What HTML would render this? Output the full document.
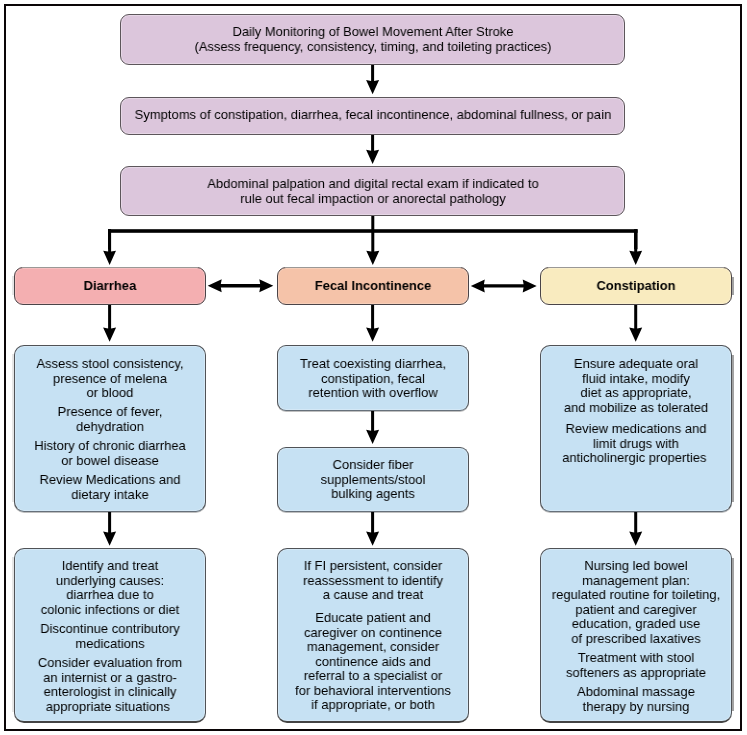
<!DOCTYPE html>
<html><head><meta charset="utf-8"><style>
html,body{margin:0;padding:0;background:#fff;}
body{width:747px;height:735px;position:relative;overflow:hidden;font-family:"Liberation Sans",sans-serif;color:#000;}
.frame{position:absolute;left:4px;top:4px;width:738px;height:727px;box-sizing:border-box;border:2px solid #0a0506;}
.b{position:absolute;box-sizing:border-box;border:1px solid #4a4448;}
.b.p{border-color:#5d565b;box-shadow:inset 0 0 0 1px rgba(255,255,255,0.3);}
.b.c{border-color:#4a4448;box-shadow:inset 0 0 0 1px rgba(255,255,255,0.2);}
.b.u{border-color:#505256;border-bottom-color:#66707a;box-shadow:0 1px 0 rgba(0,0,0,0.25),inset 0 0 0 1px rgba(255,255,255,0.25);}
.b.u2{border-bottom:2px solid #444;box-shadow:inset 0 0 0 1px rgba(255,255,255,0.25);}
.t{position:absolute;width:700px;text-align:center;font-size:13.5px;line-height:14.5px;white-space:nowrap;transform:scaleX(0.962);transform-origin:50% 0;will-change:transform;}
.t div{height:14.5px;}
.t.bd{font-weight:bold;transform:scaleX(0.958);}
svg{position:absolute;left:0;top:0;}
</style></head><body>
<div class="frame"></div>

<div class="b p" style="left:120px;top:14px;width:505px;height:51px;background:#dcc6dc;border-radius:9px"></div>
<div class="b p" style="left:120px;top:97px;width:505px;height:38px;background:#dcc6dc;border-radius:9px"></div>
<div class="b p" style="left:120px;top:166px;width:505px;height:50px;background:#dcc6dc;border-radius:9px"></div>
<div class="b c" style="left:14px;top:267px;width:192px;height:38px;background:#f4afb1;border-radius:9px"></div>
<div class="b c" style="left:277px;top:267px;width:192px;height:38px;background:#f5c3a9;border-radius:9px"></div>
<div class="b c" style="left:540px;top:267px;width:192px;height:38px;background:#f9ebbf;border-radius:9px"></div>
<div class="b u" style="left:14px;top:345px;width:192px;height:167px;background:#c6e1f3;border-radius:10px"></div>
<div class="b u u2" style="left:14px;top:548px;width:192px;height:175px;background:#c6e1f3;border-radius:10px"></div>
<div class="b u" style="left:277px;top:345px;width:192px;height:66px;background:#c6e1f3;border-radius:9px"></div>
<div class="b u" style="left:277px;top:447px;width:192px;height:65px;background:#c6e1f3;border-radius:9px"></div>
<div class="b u u2" style="left:277px;top:548px;width:192px;height:175px;background:#c6e1f3;border-radius:10px"></div>
<div class="b u" style="left:540px;top:345px;width:192px;height:167px;background:#c6e1f3;border-radius:10px"></div>
<div class="b u u2" style="left:540px;top:548px;width:192px;height:175px;background:#c6e1f3;border-radius:10px"></div>
<div style="position:absolute;left:732px;top:277px;width:2px;height:18px;background:#a3a3a3"></div>
<div style="position:absolute;left:732px;top:355px;width:2px;height:147px;background:#a3a3a3"></div>
<div style="position:absolute;left:732px;top:558px;width:2px;height:153px;background:#a3a3a3"></div>
<div style="position:absolute;left:12px;top:276px;width:2px;height:19px;background:#e6e6e6"></div>
<div style="position:absolute;left:22px;top:267px;width:176px;height:1px;background:#9a9896"></div>
<div style="position:absolute;left:285px;top:267px;width:176px;height:1px;background:#9a9896"></div>
<div style="position:absolute;left:548px;top:267px;width:176px;height:1px;background:#9a9896"></div>
<div style="position:absolute;left:12px;top:354px;width:2px;height:148px;background:#e6e6e6"></div>
<div style="position:absolute;left:12px;top:557px;width:2px;height:155px;background:#e6e6e6"></div>
<svg width="747" height="735" viewBox="0 0 747 735"><rect x="108" y="229.2" width="529.6" height="3.6" fill="#000"/><rect x="108" y="229.2" width="3" height="20" fill="#000"/><rect x="634.1" y="229.2" width="3.4" height="20" fill="#000"/><path d="M371.1 65 L374.1 65 L374.1 80.92307692307692 L379.1 80.0 L372.6 94.3 L366.1 80.0 L371.1 80.92307692307692 Z" fill="#000"/><path d="M371.1 135 L374.1 135 L374.1 150.72307692307692 L379.1 149.79999999999998 L372.6 164.1 L366.1 149.79999999999998 L371.1 150.72307692307692 Z" fill="#000"/><path d="M371.3 216 L374.3 216 L374.3 251.62307692307692 L379.3 250.7 L372.8 265 L366.3 250.7 L371.3 251.62307692307692 Z" fill="#000"/><path d="M108.1 229.5 L111.1 229.5 L111.1 251.61874999999998 L116.0 250.7 L109.6 265 L103.19999999999999 250.7 L108.1 251.61874999999998 Z" fill="#000"/><path d="M634.2 229.5 L637.2 229.5 L637.2 251.61874999999998 L642.1 250.7 L635.7 265 L629.3000000000001 250.7 L634.2 251.61874999999998 Z" fill="#000"/><path d="M108.1 305 L111.1 305 L111.1 328.4230769230769 L116.1 327.5 L109.6 341.8 L103.1 327.5 L108.1 328.4230769230769 Z" fill="#000"/><path d="M371.1 305 L374.1 305 L374.1 328.4230769230769 L379.1 327.5 L372.6 341.8 L366.1 327.5 L371.1 328.4230769230769 Z" fill="#000"/><path d="M634.2 305 L637.2 305 L637.2 328.4230769230769 L642.2 327.5 L635.7 341.8 L629.2 327.5 L634.2 328.4230769230769 Z" fill="#000"/><path d="M108.1 512 L111.1 512 L111.1 532.4230769230769 L116.1 531.5 L109.6 545.8 L103.1 531.5 L108.1 532.4230769230769 Z" fill="#000"/><path d="M371.1 512 L374.1 512 L374.1 532.4230769230769 L379.1 531.5 L372.6 545.8 L366.1 531.5 L371.1 532.4230769230769 Z" fill="#000"/><path d="M634.2 512 L637.2 512 L637.2 532.4230769230769 L642.2 531.5 L635.7 545.8 L629.2 531.5 L634.2 532.4230769230769 Z" fill="#000"/><path d="M371.1 411 L374.1 411 L374.1 430.7230769230769 L379.1 429.8 L372.6 444.1 L366.1 429.8 L371.1 430.7230769230769 Z" fill="#000"/><path d="M207.7 285.8 L221.7 279.3 L220.81384615384613 284.1 L260.18615384615384 284.1 L259.3 279.3 L273.3 285.8 L259.3 292.3 L260.18615384615384 287.5 L220.81384615384613 287.5 L221.7 292.3 Z" fill="#000"/><path d="M470.8 285.9 L484.8 279.4 L483.9138461538462 284.2 L523.5861538461539 284.2 L522.7 279.4 L536.7 285.9 L522.7 292.4 L523.5861538461539 287.59999999999997 L483.9138461538462 287.59999999999997 L484.8 292.4 Z" fill="#000"/></svg>
<div class="t" style="left:22.899999999999977px;top:25.20px;transform:scaleX(0.957);"><div>Daily Monitoring of Bowel Movement After Stroke</div><div>(Assess frequency, consistency, timing, and toileting practices)</div></div>
<div class="t" style="left:22.5px;top:107.70px;"><div>Symptoms of constipation, diarrhea, fecal incontinence, abdominal fullness, or pain</div></div>
<div class="t" style="left:22.5px;top:176.80px;"><div>Abdominal palpation and digital rectal exam if indicated to</div><div>rule out fecal impaction or anorectal pathology</div></div>
<div class="t bd" style="left:-240.5px;top:278.80px;"><div>Diarrhea</div></div>
<div class="t bd" style="left:22.5px;top:278.80px;"><div>Fecal Incontinence</div></div>
<div class="t bd" style="left:285.6px;top:278.80px;"><div>Constipation</div></div>
<div class="t" style="left:-240.25px;top:356.60px;"><div>Assess stool consistency,</div><div>presence of melena</div><div>or blood</div></div>
<div class="t" style="left:-240.25px;top:405.10px;"><div>Presence of fever,</div><div>dehydration</div></div>
<div class="t" style="left:-240.25px;top:439.20px;"><div>History of chronic diarrhea</div><div>or bowel disease</div></div>
<div class="t" style="left:-240.25px;top:472.90px;"><div>Review Medications and</div><div>dietary intake</div></div>
<div class="t" style="left:-240.25px;top:558.80px;"><div>Identify and treat</div><div>underlying causes:</div><div>diarrhea due to</div><div>colonic infections or diet</div></div>
<div class="t" style="left:-240.25px;top:621.90px;"><div>Discontinue contributory</div><div>medications</div></div>
<div class="t" style="left:-240.25px;top:655.90px;"><div>Consider evaluation from</div><div>an internist or a gastro-</div><div>enterologist in clinically</div><div style="position:relative;left:-2.3px">appropriate situations</div></div>
<div class="t" style="left:22.5px;top:356.50px;"><div>Treat coexisting diarrhea,</div><div>constipation, fecal</div><div>retention with overflow</div></div>
<div class="t" style="left:22.5px;top:457.80px;"><div>Consider fiber</div><div>supplements/stool</div><div>bulking agents</div></div>
<div class="t" style="left:22.5px;top:558.80px;"><div>If FI persistent, consider</div><div>reassessment to identify</div><div>a cause and treat</div></div>
<div class="t" style="left:22.5px;top:610.80px;"><div>Educate patient and</div><div>caregiver on continence</div><div>management, consider</div><div>continence aids and</div><div>referral to a specialist or</div><div>for behavioral interventions</div><div>if appropriate, or both</div></div>
<div class="t" style="left:286px;top:356.80px;"><div>Ensure adequate oral</div><div>fluid intake, modify</div><div>diet as appropriate,</div><div>and mobilize as tolerated</div></div>
<div class="t" style="left:286px;top:421.70px;"><div>Review medications and</div><div>limit drugs with</div><div style="position:relative;left:-1.8px">anticholinergic properties</div></div>
<div class="t" style="left:286px;top:558.80px;"><div>Nursing led bowel</div><div>management plan:</div><div>regulated routine for toileting,</div><div>patient and caregiver</div><div>education, graded use</div><div>of prescribed laxatives</div></div>
<div class="t" style="left:286px;top:651.20px;"><div>Treatment with stool</div><div>softeners as appropriate</div></div>
<div class="t" style="left:286px;top:684.80px;"><div>Abdominal massage</div><div>therapy by nursing</div></div>
</body></html>
